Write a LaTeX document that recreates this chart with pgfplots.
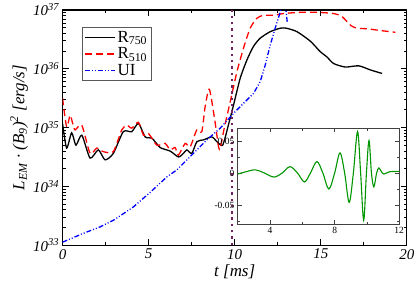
\documentclass[border=0pt]{standalone}
\usepackage{pgfplots}
\pgfplotsset{compat=1.18}
\usepackage{fontspec}
\setmainfont{Liberation Serif}
\definecolor{dotpur}{RGB}{115,35,95}
\definecolor{wgreen}{RGB}{0,150,0}
\begin{document}
\begin{tikzpicture}
\path[use as bounding box] (-62.5bp,-35bp) rectangle (352.3bp,245bp);
\begin{axis}[
  at={(0,0)}, anchor=south west, scale only axis,
  width=344.2bp, height=235bp,
  xmin=0, xmax=20, ymin=1e33, ymax=1e37, ymode=log,
  xtick={0,5,10,15,20}, xticklabels={0,5,10,15,20}, minor x tick num=1,
  ytick={1e33,1e34,1e35,1e36,1e37},
  yticklabels={10\textsuperscript{33},10\textsuperscript{34},10\textsuperscript{35},10\textsuperscript{36},10\textsuperscript{37}},
  tick label style={font=\fontsize{15}{15}\selectfont\itshape},
  yticklabel style={xshift=0bp},
  xticklabel style={yshift=-0.5bp},
  major tick length=6bp, minor tick length=3bp,
  tick align=inside, xtick pos=both, ytick pos=both,
  axis line style={line width=1.1bp},
  every tick/.style={line width=0.8bp, black},
  xlabel={t [ms]},
  xlabel style={font=\fontsize{17}{17}\selectfont\itshape, at={(rel axis cs:0.5,0)}, anchor=center, yshift=-26.5bp},
  ylabel={L\textsubscript{EM} · (B\textsubscript{9})\textsuperscript{2} [erg/s]},
  ylabel style={font=\fontsize{17}{17}\selectfont\itshape, at={(rel axis cs:0,0.5)}, anchor=center, yshift=43.5bp},
  legend style={at={(rel axis cs:0.056,0.929)}, anchor=north west,
    font=\fontsize{17}{17}\selectfont, draw=black!65, line width=0.8bp,
    inner sep=2bp, row sep=0bp},
  legend cell align=left,
  legend image code/.code={\draw[#1] (0bp,0bp) -- (30bp,0bp);},
]
\addplot[black, line width=1.3bp, smooth, tension=0.4] coordinates {
(0.0,1.175e35) (0.24,4.467e34) (0.53,8.13e34) (0.78,5.01e34) (1.12,7.41e34)
(1.6,3.02e34) (2.08,4.17e34) (2.47,2.82e34) (2.95,3.63e34) (3.53,8.51e34)
(4.02,8.51e34) (4.41,1.175e35) (4.8,6.92e34) (5.19,6.61e34) (5.67,4.57e34)
(6.25,3.98e34) (6.73,3.16e34) (7.02,3.63e34) (7.22,4.17e34) (7.51,3.63e34)
(7.8,5.75e34) (8.19,6.17e34) (8.67,6.92e34) (8.97,5.75e34) (9.3,5.01e34)
(9.64,1.122e35) (9.93,2.40e35) (10.32,6.92e35) (10.71,1.413e36) (11.09,2.40e36)
(11.48,3.31e36) (12.06,4.27e36) (12.65,4.90e36) (13.0,4.90e36) (13.62,4.27e36)
(14.39,2.95e36) (14.97,1.95e36) (15.36,1.585e36) (15.74,1.23e36) (16.42,1.07e36)
(17.2,1.122e36) (17.88,9.55e35) (18.56,8.32e35)
};
\addlegendentry{R\textsubscript{750}}
\addplot[red, line width=1.3bp, dash pattern=on 7bp off 4bp, smooth, tension=0.4] coordinates {
(0.0,3.16e35) (0.24,1.023e35) (0.44,1.62e35) (0.59,1.175e35) (0.73,9.12e34)
(1.12,1.096e35) (1.6,3.63e34) (1.99,4.47e34) (2.37,3.89e34) (2.95,3.89e34)
(3.44,9.12e34) (3.73,1.096e35) (4.02,9.77e34) (4.41,1.23e35) (4.7,7.41e34)
(4.99,7.94e34) (5.48,5.01e34) (5.96,5.37e34) (6.25,4.17e34) (6.54,4.57e34)
(6.73,3.39e34) (7.12,5.37e34) (7.41,4.68e34) (7.8,9.12e34) (8.09,8.51e34)
(8.28,2.24e35) (8.53,4.47e35) (8.87,1.175e35) (9.06,4.68e34) (9.16,4.47e34)
(9.4,1.0e35) (9.74,2.75e35) (10.13,8.91e35) (10.51,2.24e36) (10.9,4.90e36)
(11.29,7.24e36) (11.67,8.13e36) (12.26,8.13e36) (12.84,8.71e36) (13.8,9.12e36)
(14.78,9.12e36) (15.74,8.71e36) (16.23,7.76e36) (16.72,5.50e36) (17.1,4.90e36)
(17.69,4.79e36) (18.46,4.47e36) (19.33,4.17e36)
};
\addlegendentry{R\textsubscript{510}}
\addplot[blue, line width=1.3bp, dash pattern=on 5bp off 2bp on 1bp off 2bp on 1bp off 2bp] coordinates {
(0.0,1.12e33) (1.21,1.585e33) (2.18,2.04e33) (3.0,2.69e33) (4.12,4.47e33)
(5.1,7.94e33) (6.06,1.445e34) (6.64,1.905e34) (7.6,3.63e34) (8.38,6.17e34)
(9.16,9.77e34) (9.93,1.74e35) (10.71,2.95e35) (11.09,3.80e35) (11.48,6.03e35)
(11.77,1.148e36) (12.06,2.51e36) (12.35,4.90e36) (12.65,9.33e36) (12.9,1.58e37)
(13.05,6.31e36)
};
\addlegendentry{UI}
\addplot[dotpur, line width=2.4bp, dash pattern=on 2.4bp off 3.9bp, forget plot] coordinates {(9.84,1e33) (9.84,1e37)};
\end{axis}
\begin{axis}[
  at={(175.2bp,21bp)}, anchor=south west, scale only axis,
  width=161.3bp, height=95.7bp,
  xmin=2, xmax=12, ymin=-0.08, ymax=0.07,
  scaled x ticks=false, scaled y ticks=false,
  xtick={4,8,12}, xticklabels={4,8,12}, minor xtick={6,10},
  ytick={-0.05,0,0.05}, yticklabels={-0.05,0,0.05}, minor ytick={-0.075,-0.025,0.025},
  tick label style={font=\fontsize{9.5}{9.5}\selectfont},
  major tick length=4bp, minor tick length=2.5bp,
  tick align=inside, xtick pos=both, ytick pos=both,
  axis line style={line width=1.1bp, black!75},
  every tick/.style={line width=0.7bp, black!75},
  axis background/.style={fill=white},
]
\addplot[wgreen, line width=1.1bp, smooth, tension=0.55] coordinates {
(2.0,-0.0015) (2.5,0.002) (3.09,0.005) (3.65,0.0) (4.24,-0.0063)
(4.75,0.0) (5.23,0.010) (5.7,0.0) (6.13,-0.014) (6.5,0.0)
(6.9,0.018) (7.27,0.0) (7.64,-0.025) (8.0,0.0) (8.33,0.0315)
(8.62,0.0) (8.9,-0.046) (9.16,0.0) (9.42,0.065) (9.61,0.0)
(9.8,-0.074) (9.97,0.0) (10.13,0.051) (10.28,0.0) (10.43,-0.0216)
(10.6,0.0) (10.74,0.008) (10.9,0.002) (11.06,-0.0016) (11.4,0.002)
(12.0,0.0025)
};
\end{axis}
\end{tikzpicture}
\end{document}
